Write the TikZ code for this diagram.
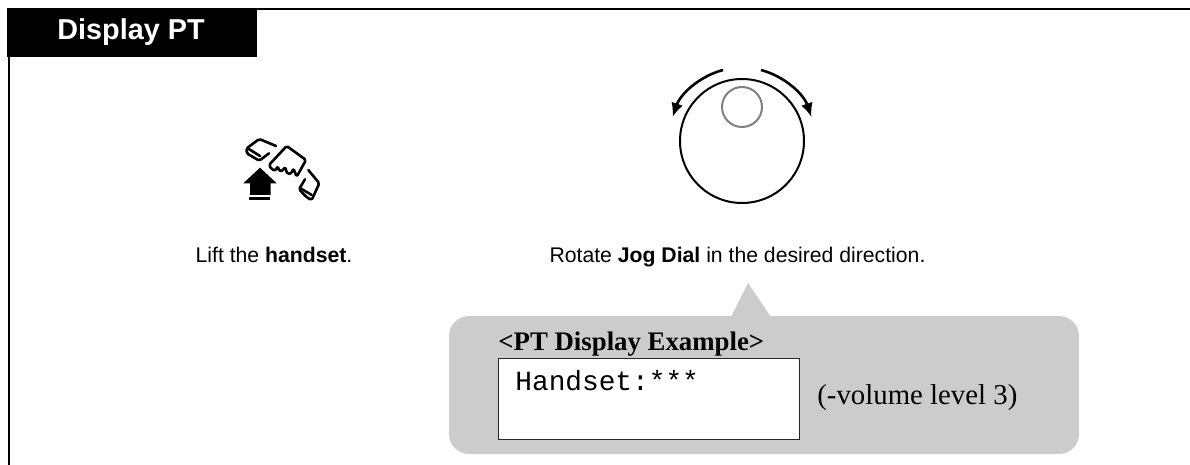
\documentclass[tikz,border=0pt]{standalone}
\usepackage{fontspec}
\setmainfont{Liberation Sans}
\newfontfamily\serifface{Liberation Serif}
\newfontfamily\monoface{Liberation Mono}
\usetikzlibrary{arrows.meta}
\begin{document}
\begin{tikzpicture}[x=0.5pt,y=-0.5pt,
    caption/.style={anchor=base,inner sep=0pt,font=\fontsize{10.6}{12}\selectfont},
    icon/.style={draw=black,line width=1.3pt,line join=round,line cap=round,fill=none,rounded corners=0.8pt},
    dialarrow/.style={draw=black,line width=1.3pt,-{Latex[length=7pt,width=6pt]}},
    title/.style={anchor=base west,inner sep=0pt,text=white,font=\fontsize{14.4}{16}\selectfont\bfseries},
    lcd/.style={draw=black!85,fill=white,line width=0.5pt}]
  \useasboundingbox (0,0) rectangle (1190,465);
  % frame
  \coordinate (corner) at (9,9);
  \draw[line width=1pt] (9,465) -- (corner) -- (1190,9);
  \fill[black] (7,8) rectangle (257,57);
  \node[title] (heading) at (57,40) {Display PT};
  % handset
  \fill (260,167.7) -- (243.3,183.3) -- (250,183.3) -- (250,195) -- (270.7,195) -- (270.7,183.3) -- (276.7,183.3) -- cycle;
  \fill (249,197) rectangle (270,200);
  \draw[icon] (276,146) -- (259.3,139) -- (246.7,148.3) -- (246.7,153.3) -- (259.3,160.7) -- (269,153.3);
  \draw[icon] (248,148.5) -- (260,156);
  \draw[icon] (269,165) -- (286.7,146) -- (306,160) -- (296.7,176.7) -- (293.3,168.3) -- (291.7,173.3) -- (287.3,174) -- (285,166.7) -- (283.3,170) -- (280,171.7) -- (277.3,166) -- (276,170.7) -- (271.7,169.3) -- cycle;
  \draw[icon] (308.3,170) -- (319.3,183.3) -- (311.7,200) -- (306.7,197.3) -- (299,189.3) -- (305,179.3);
  \draw[icon] (300,188) -- (311.7,195);
  \node[caption] (lift) at (274,262.5) {Lift the \textbf{handset}.};
  % jog dial
  \coordinate (dial) at (742,141);
  \draw[line width=1pt] (dial) circle (62);
  \draw[black!50,line width=1pt] (742,107) circle (20);
  \draw[dialarrow] (723,70) arc[start angle=-105,end angle=-161,radius=73.5];
  \draw[dialarrow] (761,70) arc[start angle=-75,end angle=-19,radius=73.5];
  \node[caption] (rotate) at (737.5,262.5) {Rotate \textbf{Jog Dial} in the desired direction.};
  % display example
  \fill[black!20,rounded corners=10pt] (449,316) rectangle (1079,454);
  \fill[black!20] (731,317) -- (748,283) -- (771,317) -- cycle;
  \node[anchor=base west,inner sep=0pt,font=\fontsize{13.4}{15}\selectfont\serifface\bfseries] (example) at (498,350.5) {<PT Display Example>};
  \draw[lcd] (498,358) rectangle (799,439);
  \node[anchor=base west,inner sep=0pt,font=\fontsize{13.9}{15}\selectfont\monoface] (lcdtext) at (515,390) {Handset:***};
  \node[anchor=base west,inner sep=0pt,font=\fontsize{14.4}{16}\selectfont\serifface] (level) at (817,404) {(-volume level 3)};
\end{tikzpicture}
\end{document}
